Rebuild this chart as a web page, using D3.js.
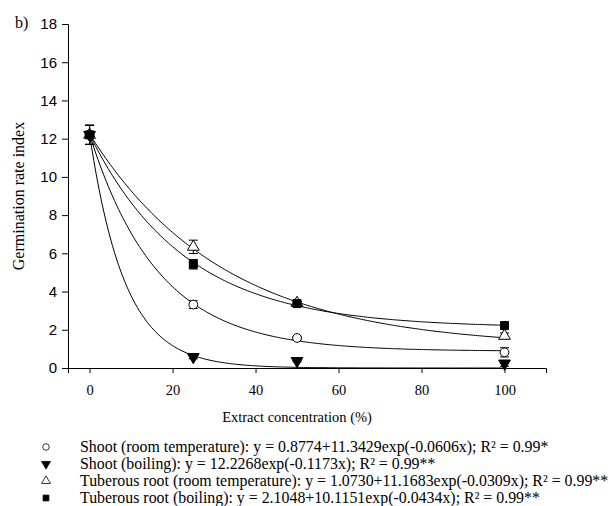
<!DOCTYPE html>
<html>
<head>
<meta charset="utf-8">
<script src="https://cdn.jsdelivr.net/npm/d3@7"></script>
<style>
  body { margin: 0; background: #fff; }
  svg { display: block; }
  .serif { font-family: "Liberation Serif", "Times New Roman", serif; }
  .sans { font-family: "Liberation Sans", Arial, sans-serif; }
</style>
</head>
<body>
<svg id="chart" width="615" height="506"></svg>
<script>
// concentrations (%)
const conc = [0, 25, 50, 100];

// series names and legend equations
const names = [
  "Shoot (room temperature): y = 0.8774+11.3429exp(-0.0606x); R\u00B2 = 0.99*",
  "Shoot (boiling): y = 12.2268exp(-0.1173x); R\u00B2 = 0.99**",
  "Tuberous root (room temperature): y = 1.0730+11.1683exp(-0.0309x); R\u00B2 = 0.99**",
  "Tuberous root (boiling): y = 2.1048+10.1151exp(-0.0434x); R\u00B2 = 0.99**"
];

// germination rate index, mean values
const shootRoom = [12.2, 3.32, 1.57, 0.82];
const shootBoil = [12.2, 0.58, 0.37, 0.24];
const rootRoom = [12.2, 6.34, 3.4, 1.68];
const rootBoil = [12.2, 5.43, 3.37, 2.22];

// error bars (+/-)
const shootRoomErr = [0.5, 0.2, 0.08, 0.24];
const shootBoilErr = [0.5, 0.1, 0.05, 0.15];
const rootRoomErr = [0.5, 0.35, 0.1, 0.15];
const rootBoilErr = [0.5, 0.25, 0.1, 0.1];

// fitted equation coefficients: y = a + b*exp(c*x)
const fitA = [0.8774, 0, 1.0730, 2.1048];
const fitB = [11.3429, 12.2268, 11.1683, 10.1151];
const fitC = [-0.0606, -0.1173, -0.0309, -0.0434];

const yTicks = [0, 2, 4, 6, 8, 10, 12, 14, 16, 18];
const xTicks = [0, 20, 40, 60, 80, 100];

const series = [
  { vals: shootRoom, err: shootRoomErr, sym: d3.symbolCircle, fill: "#fff" },
  { vals: shootBoil, err: shootBoilErr, sym: "down", fill: "#000" },
  { vals: rootRoom, err: rootRoomErr, sym: d3.symbolTriangle, fill: "#fff" },
  { vals: rootBoil, err: rootBoilErr, sym: d3.symbolSquare, fill: "#000" }
];

const svg = d3.select("#chart");

const x = d3.scaleLinear().domain([-5.2, 110]).range([68, 546]);
const y = d3.scaleLinear().domain([0, 18]).range([368, 24]);

function markerPath(sym, size) {
  if (sym === "down") return d3.symbol(d3.symbolTriangle, size)();
  return d3.symbol(sym, size)();
}

// axes
const yAxis = svg.append("g")
  .attr("transform", "translate(68,0)")
  .call(d3.axisLeft(y).tickValues(yTicks).tickSizeOuter(0).tickSize(6).tickPadding(5));
yAxis.attr("font-family", null).attr("font-size", null);
yAxis.selectAll("text")
  .attr("class", "sans")
  .style("font-size", "15px")
  .attr("fill", "#000");

const xAxis = svg.append("g")
  .attr("transform", "translate(0,368)")
  .call(d3.axisBottom(x).tickValues(xTicks).tickSizeOuter(0).tickSize(5).tickPadding(12));
xAxis.attr("font-family", null).attr("font-size", null);
xAxis.selectAll("text")
  .attr("class", "serif")
  .style("font-size", "14.5px")
  .attr("fill", "#000");

svg.selectAll(".domain, .tick line").attr("stroke", "#000");

// labels
svg.append("text")
  .attr("class", "serif")
  .attr("x", 15).attr("y", 28)
  .style("font-size", "16px")
  .text("b)");

svg.append("text")
  .attr("class", "serif")
  .attr("transform", "translate(24,196) rotate(-90)")
  .attr("text-anchor", "middle")
  .style("font-size", "16px")
  .text("Germination rate index");

svg.append("text")
  .attr("class", "serif")
  .attr("x", x(50)).attr("y", 422)
  .attr("text-anchor", "middle")
  .style("font-size", "14.5px")
  .text("Extract concentration (%)");

// fitted curves
const xs = d3.range(0, 100.5, 0.5);
const line = d3.line().x(d => x(d[0])).y(d => y(d[1]));
fitA.forEach((a, i) => {
  const pts = xs.map(v => [v, a + fitB[i] * Math.exp(fitC[i] * v)]);
  svg.append("path")
    .attr("d", line(pts))
    .attr("fill", "none")
    .attr("stroke", "#000")
    .attr("stroke-width", 1);
});

// error bars and markers
series.forEach(s => {
  const g = svg.append("g");
  conc.forEach((c, j) => {
    const cx = x(c), lo = y(s.vals[j] - s.err[j]), hi = y(s.vals[j] + s.err[j]);
    g.append("line").attr("x1", cx).attr("x2", cx).attr("y1", lo).attr("y2", hi).attr("stroke", "#000");
    g.append("line").attr("x1", cx - 4.5).attr("x2", cx + 4.5).attr("y1", lo).attr("y2", lo).attr("stroke", "#000");
    g.append("line").attr("x1", cx - 4.5).attr("x2", cx + 4.5).attr("y1", hi).attr("y2", hi).attr("stroke", "#000");
    g.append("path")
      .attr("d", markerPath(s.sym, s.sym === d3.symbolSquare ? 64 : 60))
      .attr("transform", `translate(${cx},${y(s.vals[j])})` + (s.sym === "down" ? " rotate(180)" : ""))
      .attr("fill", s.fill)
      .attr("stroke", "#000")
      .attr("stroke-width", 1);
  });
});

// legend
const leg = svg.append("g");
const legTexts = [];
names.forEach((n, i) => {
  const ly = 447 + i * 17;
  const s = series[i];
  leg.append("path")
    .attr("d", markerPath(s.sym, 34))
    .attr("transform", `translate(46,${ly})` + (s.sym === "down" ? " rotate(180)" : ""))
    .attr("fill", s.fill)
    .attr("stroke", "#000")
    .attr("stroke-width", 0.8);
  legTexts.push(leg.append("text")
    .attr("class", "serif")
    .attr("x", 80).attr("y", ly + 5)
    .style("font-size", "15px")
    .text(n));
});
// fit the longest legend line to the reference width (ends near x = 609)
const w3 = legTexts[2].node().getComputedTextLength();
const fs = Math.min(19, 15 * 529 / w3);
legTexts.forEach(t => t.style("font-size", fs + "px"));
</script>
</body>
</html>
